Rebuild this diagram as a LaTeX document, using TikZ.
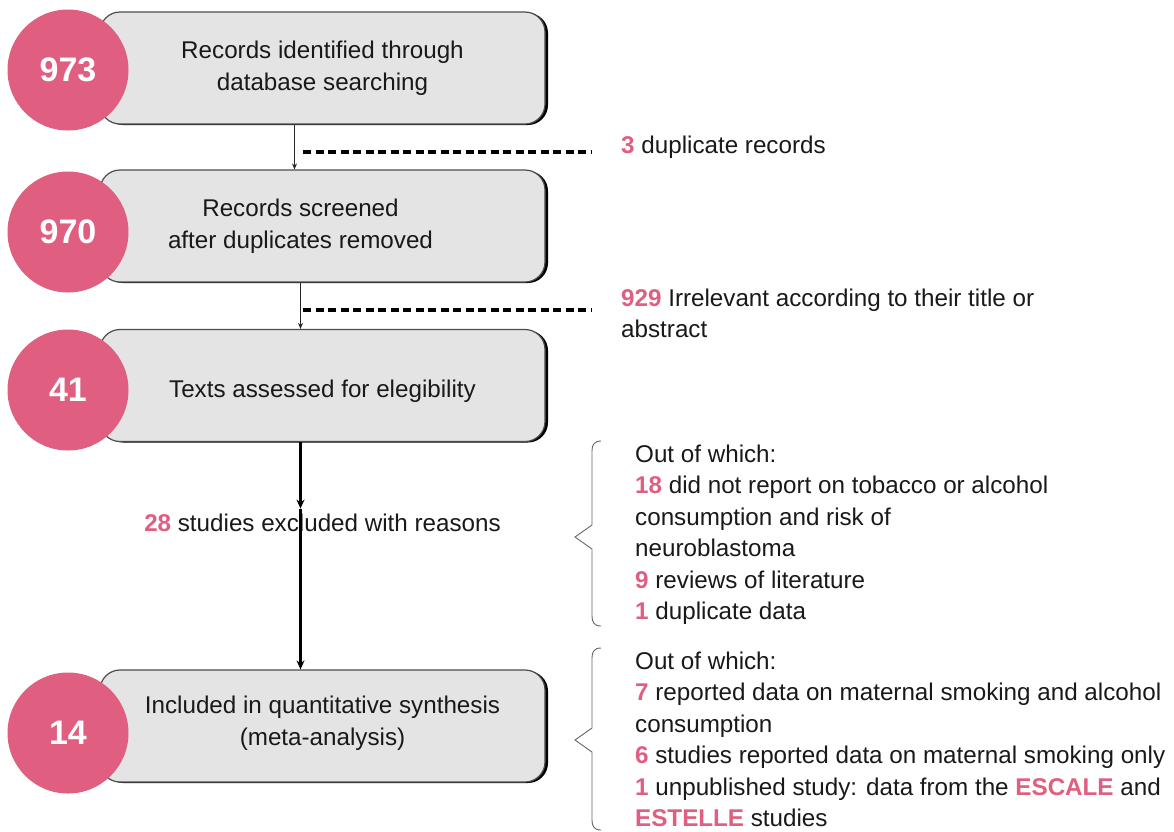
\documentclass[tikz,border=0pt]{standalone}
\usepackage{fontspec}
\setmainfont{Liberation Sans}
\usetikzlibrary{arrows.meta,shadows}
\definecolor{rosepink}{RGB}{224,94,128}
\definecolor{boxfill}{RGB}{228,228,228}
\definecolor{txtcol}{RGB}{25,25,25}
\newcommand{\pnum}[1]{\textcolor{rosepink}{\textbf{#1}}}
\begin{document}
\begin{tikzpicture}[x=1pt,y=-1pt,
  every node/.style={text=txtcol, font=\fontsize{24.2}{31.5}\selectfont},
  box/.style={draw=black!70, line width=1.2pt, fill=boxfill, rounded corners=20pt,
    minimum width=445pt, minimum height=112pt, align=center, inner sep=0pt,
    drop shadow={shadow xshift=3pt, shadow yshift=-1pt, fill=black, opacity=1}},
  circ/.style={circle, fill=rosepink, minimum size=121pt, inner sep=0pt,
    text=white, font=\fontsize{34}{36}\selectfont\bfseries},
  thinarr/.style={draw=black!85, line width=0.9pt, -{Stealth[length=6pt,width=5pt]}},
  thickarr/.style={draw=black, line width=2.2pt, -{Stealth[length=9pt,width=8pt]}},
  dashline/.style={draw=black, line width=3.4pt, dash pattern=on 8pt off 4.5pt},
  bracestyle/.style={draw=black!60, line width=0.9pt},
  side/.style={anchor=base west, inner sep=0pt}
]
\useasboundingbox (0,0) rectangle (1174,831);
\fill[white] (0,0) rectangle (1174,831);

% boxes
\node[box] (b1) at (322.5,68) {Records identified through\\database searching};
\node[box] (b2) at (322.5,226) {Records screened\hspace*{44pt}\\after duplicates removed\hspace*{44pt}};
\node[box] (b3) at (322.5,385.5) {\rule{0pt}{28pt}Texts assessed for elegibility};
\node[box] (b4) at (322.5,726) {Included in quantitative synthesis\\(meta-analysis)\rule[-11pt]{0pt}{0pt}};

% circles
\node[circ] (c1) at (68,70) {973};
\node[circ] (c2) at (68,232) {970};
\node[circ] (c3) at (68,390) {41};
\node[circ] (c4) at (68,733) {14};

% arrow x positions
\coordinate (ax1) at (294.5,0);
\coordinate (ax2) at (300.5,0);

\draw[thinarr] (b1.south -| ax1) -- (b2.north -| ax1);
\draw[thinarr] (b2.south -| ax2) -- (b3.north -| ax2);

% excluded label
\node (ex) at (322.5,523) {\pnum{28} studies excluded with reasons};
\draw[thickarr] (b3.south -| ax2) -- ([yshift=2pt]ex.north -| ax2);
\draw[thickarr] ([yshift=2pt]ex.north -| ax2) -- (b4.north -| ax2);

% dashed lines
\coordinate (d1a) at (303,152);
\coordinate (d1b) at (591,152);
\coordinate (d2a) at (303,310);
\coordinate (d2b) at (591,310);
\draw[dashline] (d1a) -- (d1b);
\draw[dashline] (d2a) -- (d2b);

% side texts
\node[side] (t1) at (621,153) {\pnum{3} duplicate records};
\node[side] (t2) at (621,306) {\vtop{\hbox{\pnum{929} Irrelevant according to their title or}\hbox{abstract}}};

\node[side] (t3) at (635,462) {\vtop{%
\hbox{Out of which:}
\hbox{\pnum{18} did not report on tobacco or alcohol}
\hbox{consumption and risk of}
\hbox{neuroblastoma}
\hbox{\pnum{9} reviews of literature}
\hbox{\pnum{1} duplicate data}}};

\node[side] (t4) at (635,669) {\vtop{%
\hbox{Out of which:}
\hbox{\pnum{7} reported data on maternal smoking and alcohol}
\hbox{consumption}
\hbox{\pnum{6} studies reported data on maternal smoking only}
\hbox{\pnum{1} unpublished study: data from the \pnum{ESCALE} and}
\hbox{\pnum{ESTELLE} studies}}};

% braces
\draw[bracestyle] (601,441) .. controls (594,441) and (592,445) .. (592,451) -- (592,525)
  -- (575,537) -- (592,549) -- (592,616) .. controls (592,622) and (594,626) .. (601,626);
\draw[bracestyle] (601,648) .. controls (594,648) and (592,652) .. (592,658) -- (592,728)
  -- (575,740) -- (592,752) -- (592,820) .. controls (592,826) and (594,830) .. (601,830);
\end{tikzpicture}
\end{document}
